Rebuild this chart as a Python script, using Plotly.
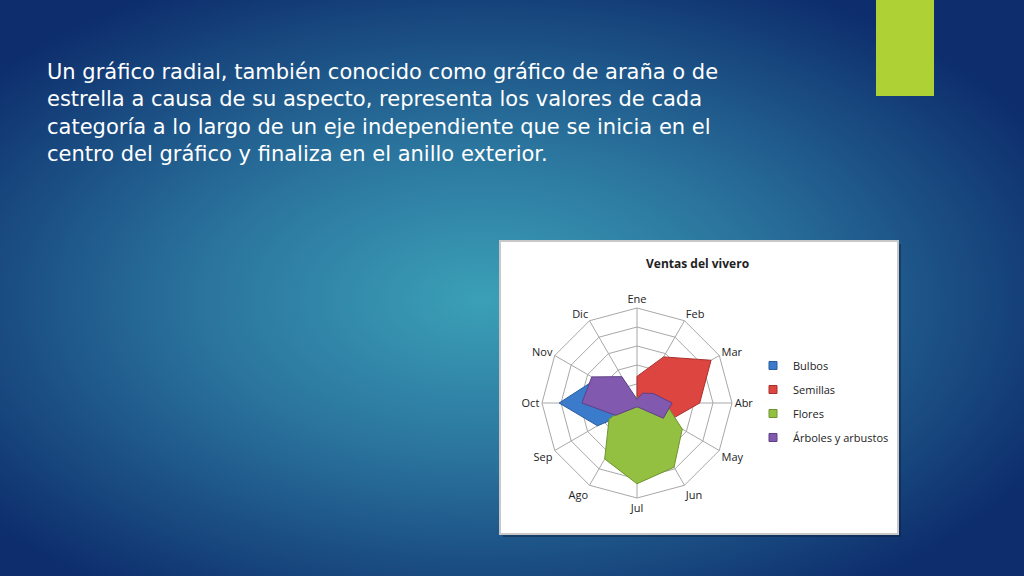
import plotly.graph_objs as go
import urllib.parse

# data
months = ['Ene', 'Feb', 'Mar', 'Abr', 'May', 'Jun', 'Jul', 'Ago', 'Sep', 'Oct', 'Nov', 'Dic']
bulbos = [0, 0, 0, 0, 0, 0, 0, 0.5, 2.4, 4.1, 2.5, 0]
semillas = [1.4, 2.8, 4.5, 3.3, 1.9, 0, 0, 0, 0, 0, 0, 0]
flores = [0.3, 0.3, 0.5, 1.5, 2.75, 3.9, 4.25, 3.4, 1.7, 0.3, 0.2, 0.2]
arboles = [0.2, 0.6, 1.0, 1.85, 1.6, 0.3, 0.2, 0.3, 1.3, 2.9, 2.75, 1.6]

text_lines = [
    'Un gráfico radial, también conocido como gráfico de araña o de',
    'estrella a causa de su aspecto, representa los valores de cada',
    'categoría a lo largo de un eje independiente que se inicia en el',
    'centro del gráfico y finaliza en el anillo exterior.',
]

W, H = 1024, 576

series = [
    ('Bulbos', bulbos, '#3b7bcc', '#2a5c9e'),
    ('Semillas', semillas, '#dc4540', '#a8302c'),
    ('Flores', flores, '#93c040', '#6e9430'),
    ('Árboles y arbustos', arboles, '#8159ae', '#5f4085'),
]

fig = go.Figure()
for name, vals, fill, line in series:
    fig.add_trace(go.Scatterpolar(
        r=vals + vals[:1], theta=months + months[:1],
        name=name, mode='lines', fill='toself', showlegend=False,
        fillcolor=fill, line=dict(color=line, width=1),
    ))
# legend entries with small square markers
for name, vals, fill, line in series:
    fig.add_trace(go.Scatterpolar(
        r=[None], theta=[None], name=name, mode='markers', legendgroup=name,
        marker=dict(symbol='square', size=8, color=fill, line=dict(color=line, width=1)),
    ))

# slide background gradient
svg = (
    f'<svg xmlns="http://www.w3.org/2000/svg" width="{W}" height="{H}">'
    '<defs><radialGradient id="g" cx="0.47" cy="0.52" r="0.62" fx="0.47" fy="0.52">'
    '<stop offset="0" stop-color="#3ba0b7"/>'
    '<stop offset="0.45" stop-color="#2a739d"/>'
    '<stop offset="1" stop-color="#0d2d6c"/>'
    '</radialGradient></defs>'
    f'<rect width="{W}" height="{H}" fill="url(#g)"/></svg>'
)
bg = 'data:image/svg+xml;charset=utf-8,' + urllib.parse.quote(svg)

cx, cy, rad = 637, 403, 95

shapes = [
    # green accent bar
    dict(type='rect', xref='paper', yref='paper', x0=876 / W, x1=934 / W, y0=1 - 96 / H, y1=1,
         fillcolor='#aed136', line=dict(width=0), layer='below'),
    # chart box shadow
    dict(type='rect', xref='paper', yref='paper', x0=503 / W, x1=901 / W, y0=1 - 537 / H, y1=1 - 244 / H,
         fillcolor='rgba(10,30,60,0.45)', line=dict(width=0), layer='below'),
    # chart box
    dict(type='rect', xref='paper', yref='paper', x0=500 / W, x1=898 / W, y0=1 - 534 / H, y1=1 - 241 / H,
         fillcolor='white', line=dict(color='#c8c8c8', width=2), layer='below'),
]

annotations = [
    dict(text='<br>'.join(text_lines), xref='paper', yref='paper', x=45 / W, y=1 - 113 / H,
         xanchor='left', yanchor='middle', align='left', showarrow=False,
         font=dict(family='DejaVu Sans', size=21, color='white')),
    dict(text='<b>Ventas del vivero</b>', xref='paper', yref='paper', x=697 / W, y=1 - 263 / H,
         xanchor='center', yanchor='middle', showarrow=False,
         font=dict(family='Open Sans', size=12, color='#222')),
]

fig.update_layout(
    width=W, height=H,
    margin=dict(l=0, r=0, t=0, b=0),
    paper_bgcolor='#1a4f88',
    images=[dict(source=bg, xref='paper', yref='paper', x=0, y=1, sizex=1, sizey=1,
                 xanchor='left', yanchor='top', sizing='stretch', layer='below')],
    shapes=shapes,
    annotations=annotations,
    polar=dict(
        domain=dict(x=[(cx - rad) / W, (cx + rad) / W], y=[(H - cy - rad) / H, (H - cy + rad) / H]),
        bgcolor='white',
        gridshape='linear',
        radialaxis=dict(range=[0, 5], dtick=1, showticklabels=False, ticks='',
                        gridcolor='#a8a8a8', showline=False, angle=90),
        angularaxis=dict(direction='clockwise', rotation=90, gridcolor='#a8a8a8',
                         linecolor='#a8a8a8', ticks='',
                         tickfont=dict(family='Open Sans', size=11, color='#222')),
    ),
    legend=dict(x=753 / W, y=1 - 351 / H, xanchor='left', yanchor='top',
                bgcolor='rgba(0,0,0,0)', tracegroupgap=5, itemwidth=30,
                font=dict(family='Open Sans', size=11, color='#222')),
)

fig.write_html('out.html', config={'displayModeBar': False},
               post_script="document.body.style.margin='0';document.body.style.overflow='hidden';")
